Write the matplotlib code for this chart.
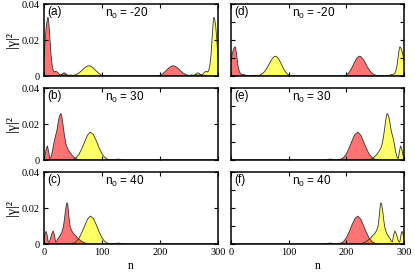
import matplotlib
matplotlib.use("Agg")
import matplotlib.pyplot as plt

plt.rcParams["font.family"] = ["Liberation Serif", "DejaVu Serif"]
plt.rcParams["mathtext.fontset"] = "custom"
plt.rcParams["mathtext.rm"] = "Liberation Sans"
plt.rcParams["mathtext.it"] = "Liberation Sans"

# panel (a), n0 = -20
n_a_red = [0, 2, 4, 6, 7, 8, 10, 12, 14, 16, 18, 20, 23, 26, 28, 30, 33, 36, 39, 42, 45,
           195, 200, 205, 210, 215, 220, 223, 226, 230, 235, 240, 245, 250, 255, 258,
           262, 266, 270, 274, 278, 282, 300]
g_a_red = [0.010, 0.020, 0.028, 0.032, 0.0325, 0.031, 0.022, 0.012, 0.006, 0.003, 0.0022,
           0.0026, 0.0022, 0.0010, 0.0004, 0.0006, 0.0016, 0.0017, 0.0008, 0.0002, 0.0,
           0.0, 0.0004, 0.0013, 0.0028, 0.0044, 0.0055, 0.0057, 0.0054, 0.0045, 0.0030,
           0.0016, 0.0007, 0.0003, 0.0006, 0.0003, 0.0008, 0.0004, 0.0009, 0.0003, 0.0002,
           0.0, 0.0]
n_a_yel = [0, 18, 22, 26, 30, 34, 38, 42, 45, 50, 55, 60, 65, 70, 74, 77, 80, 85, 90, 95,
           100, 105, 255, 258, 261, 264, 267, 270, 272, 274, 277, 280, 282, 284, 286, 288,
           290, 292, 293, 294, 296, 298, 300]
g_a_yel = [0.0, 0.0, 0.0002, 0.0003, 0.0009, 0.0004, 0.0008, 0.0003, 0.0006, 0.0003,
           0.0007, 0.0016, 0.0030, 0.0045, 0.0054, 0.0057, 0.0055, 0.0044, 0.0028, 0.0013,
           0.0004, 0.0, 0.0, 0.0002, 0.0008, 0.0017, 0.0016, 0.0006, 0.0004, 0.0010, 0.0022,
           0.0026, 0.0022, 0.003, 0.006, 0.012, 0.022, 0.031, 0.0325, 0.032, 0.028, 0.020,
           0.010]

# panel (d), n0 = -20
n_d_red = [0, 2, 4, 6, 7, 8, 10, 12, 14, 16, 18, 21, 24, 27, 30, 195, 198, 202, 206, 210,
           214, 218, 222, 225, 228, 232, 236, 240, 244, 248, 252, 256, 260, 264, 268, 300]
g_d_red = [0.008, 0.012, 0.0145, 0.016, 0.0162, 0.0155, 0.011, 0.006, 0.003, 0.0015,
           0.001, 0.0009, 0.0006, 0.0002, 0.0, 0.0, 0.0003, 0.001, 0.0025, 0.0048, 0.0075,
           0.0098, 0.011, 0.0108, 0.0098, 0.0078, 0.0053, 0.0032, 0.0017, 0.0008, 0.0003,
           0.0002, 0.0004, 0.0002, 0.0, 0.0]
n_d_yel = [0, 32, 36, 40, 44, 48, 52, 56, 60, 64, 68, 72, 75, 78, 82, 86, 90, 94, 98, 102,
           105, 270, 273, 276, 279, 282, 284, 286, 288, 290, 292, 293, 294, 296, 298, 300]
g_d_yel = [0.0, 0.0, 0.0002, 0.0004, 0.0002, 0.0003, 0.0008, 0.0017, 0.0032, 0.0053,
           0.0078, 0.0098, 0.0108, 0.011, 0.0098, 0.0075, 0.0048, 0.0025, 0.001, 0.0003,
           0.0, 0.0, 0.0002, 0.0006, 0.0009, 0.001, 0.0015, 0.003, 0.006, 0.011, 0.0155,
           0.0162, 0.016, 0.0145, 0.012, 0.008]

# panel (b), n0 = 30
n_b_red = [0, 2, 4, 6, 8, 10, 12, 14, 16, 18, 20, 22, 24, 26, 28, 29, 30, 32, 34, 36, 38,
           40, 42, 45, 48, 51, 54, 57, 60, 65, 300]
g_b_red = [0.0008, 0.003, 0.0065, 0.0078, 0.0045, 0.0008, 0.0015, 0.004, 0.0075, 0.011,
           0.0135, 0.016, 0.020, 0.0235, 0.0255, 0.0258, 0.025, 0.0215, 0.0165, 0.012,
           0.0088, 0.0068, 0.0055, 0.004, 0.0028, 0.0018, 0.001, 0.0005, 0.0002, 0.0, 0.0]
n_b_yel = [0, 45, 50, 55, 60, 65, 70, 75, 80, 85, 90, 95, 100, 105, 110, 115, 120, 125,
           128, 131, 135, 140, 300]
g_b_yel = [0.0, 0.0, 0.0003, 0.0012, 0.0030, 0.0062, 0.0100, 0.0138, 0.0155, 0.0142,
           0.0108, 0.0068, 0.0034, 0.0013, 0.0004, 0.0001, 0.0002, 0.0004, 0.0005, 0.0004,
           0.0001, 0.0, 0.0]

# panel (e), n0 = 30
n_e_red = [0, 160, 165, 169, 172, 175, 180, 185, 190, 195, 200, 205, 210, 215, 220, 225,
           230, 235, 240, 245, 250, 255, 300]
g_e_red = [0.0, 0.0, 0.0001, 0.0004, 0.0005, 0.0004, 0.0002, 0.0001, 0.0004, 0.0013,
           0.0034, 0.0068, 0.0108, 0.0142, 0.0155, 0.0138, 0.0100, 0.0062, 0.0030, 0.0012,
           0.0003, 0.0, 0.0]
n_e_yel = [0, 235, 240, 243, 246, 249, 252, 255, 258, 260, 262, 264, 266, 268, 270, 271,
           272, 274, 276, 278, 280, 282, 284, 286, 288, 290, 292, 294, 296, 298, 300]
g_e_yel = [0.0, 0.0, 0.0002, 0.0005, 0.001, 0.0018, 0.0028, 0.004, 0.0055, 0.0068,
           0.0088, 0.012, 0.0165, 0.0215, 0.025, 0.0258, 0.0255, 0.0235, 0.020, 0.016,
           0.0135, 0.011, 0.0075, 0.004, 0.0015, 0.0008, 0.0045, 0.0078, 0.0065, 0.003,
           0.0008]

# panel (c), n0 = 40
n_c_red = [0, 2, 3.5, 5, 7, 8, 10, 12, 14, 16, 18, 20, 22, 24, 27, 30, 33, 35, 37, 39, 40,
           41, 43, 45, 48, 51, 54, 57, 60, 64, 68, 72, 76, 80, 300]
g_c_red = [0.003, 0.006, 0.007, 0.0055, 0.0015, 0.001, 0.002, 0.004, 0.0062, 0.0072,
           0.005, 0.0012, 0.0015, 0.003, 0.0042, 0.006, 0.0088, 0.013, 0.0185, 0.0225,
           0.0228, 0.022, 0.015, 0.0098, 0.0072, 0.0058, 0.0048, 0.0036, 0.0027, 0.0017,
           0.0009, 0.0004, 0.0001, 0.0, 0.0]
n_c_yel = n_b_yel
g_c_yel = g_b_yel

# panel (f), n0 = 40
n_f_red = n_e_red
g_f_red = g_e_red
n_f_yel = [0, 220, 224, 228, 232, 236, 240, 243, 246, 249, 252, 255, 257, 259, 260, 261,
           263, 265, 267, 270, 273, 276, 278, 280, 282, 284, 286, 288, 290, 292, 293, 295,
           296.5, 298, 300]
g_f_yel = [0.0, 0.0, 0.0001, 0.0004, 0.0009, 0.0017, 0.0027, 0.0036, 0.0048, 0.0058,
           0.0072, 0.0098, 0.015, 0.022, 0.0228, 0.0225, 0.0185, 0.013, 0.0088, 0.006,
           0.0042, 0.003, 0.0015, 0.0012, 0.005, 0.0072, 0.0062, 0.004, 0.002, 0.001,
           0.0015, 0.0055, 0.007, 0.006, 0.003]

panels = [
    ("(a)", "-20", n_a_red, g_a_red, n_a_yel, g_a_yel),
    ("(d)", "-20", n_d_red, g_d_red, n_d_yel, g_d_yel),
    ("(b)", "30", n_b_red, g_b_red, n_b_yel, g_b_yel),
    ("(e)", "30", n_e_red, g_e_red, n_e_yel, g_e_yel),
    ("(c)", "40", n_c_red, g_c_red, n_c_yel, g_c_yel),
    ("(f)", "40", n_f_red, g_f_red, n_f_yel, g_f_yel),
]

W, H = 415, 273
fig = plt.figure(figsize=(W / 100, H / 100), dpi=100)

col_x = [44, 231]
col_w = [174, 173]
row_top = [4, 88, 172]
row_h = 72

for i, (tag, n0, nr, gr, ny, gy) in enumerate(panels):
    row, col = i // 2, i % 2
    ax = fig.add_axes([col_x[col] / W, 1 - (row_top[row] + row_h) / H,
                       col_w[col] / W, row_h / H])
    ax.fill_between(ny, 0, gy, facecolor=(1, 1, 0), alpha=0.6, lw=0)
    ax.plot(ny, gy, color="#333333", lw=0.6)
    ax.fill_between(nr, 0, gr, facecolor=(1, 0, 0), alpha=0.55, lw=0)
    ax.plot(nr, gr, color="#333333", lw=0.6)

    ax.set_xlim(0, 300)
    ax.set_ylim(0, 0.04)
    ax.set_xticks([0, 100, 200, 300])
    if col == 0:
        ax.set_yticks([0, 0.02, 0.04])
        ax.set_yticklabels(["0", "0.02", "0.04"])
        ax.set_ylabel("|γ|²", fontsize=10)
        ax.yaxis.set_label_coords(-0.145, 0.5)
    else:
        ax.set_yticks([0, 0.01, 0.02, 0.03, 0.04])
        ax.set_yticklabels([])
    if row == 2:
        ax.set_xticklabels(["0", "100", "200", "300"])
        ax.set_xlabel("n", fontsize=8.5)
        ax.xaxis.set_label_coords(0.5, -0.22)
    else:
        ax.set_xticklabels([])
    ax.tick_params(direction="in", top=True, right=True, length=3, width=0.8,
                   labelsize=7.5, pad=3)
    for s in ax.spines.values():
        s.set_linewidth(1.1)

    ax.text(0.02, 0.97, tag, transform=ax.transAxes, ha="left", va="top",
            fontsize=8.5, family="Liberation Sans")
    ax.text(0.35, 0.97, r"n$_{0}$ = " + n0, transform=ax.transAxes, ha="left",
            va="top", fontsize=8.5, family="Liberation Sans")

fig.savefig("out.png", dpi=100)
